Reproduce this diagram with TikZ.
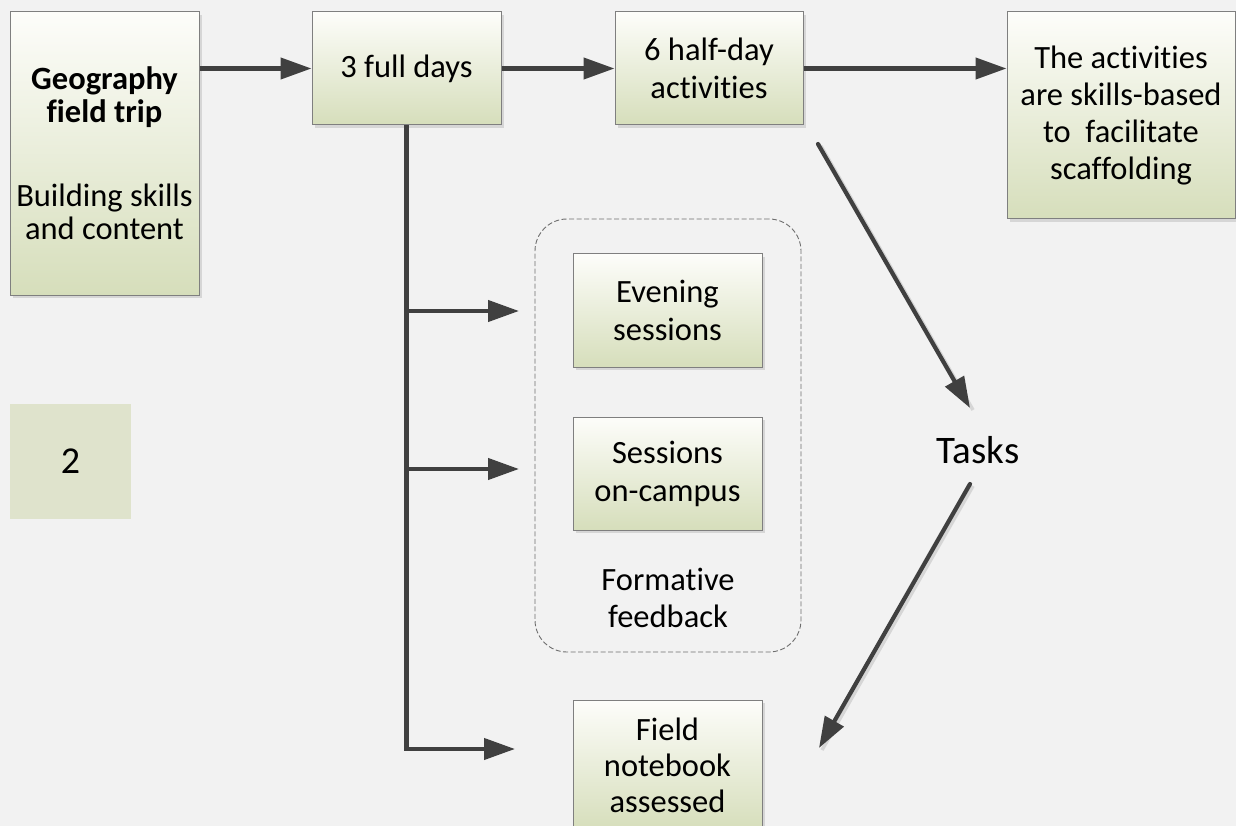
\documentclass[tikz,border=0pt]{standalone}
\usepackage{fontspec}
\setmainfont[Ligatures={NoCommon}]{Carlito}
\usetikzlibrary{arrows.meta,shadows}
\definecolor{bgc}{HTML}{F2F2F2}
\definecolor{topc}{HTML}{FDFDFA}
\definecolor{botc}{HTML}{D6DEBB}
\definecolor{edgec}{HTML}{7F7F7F}
\definecolor{arrc}{HTML}{404040}
\definecolor{shc}{HTML}{D6D6D6}
\definecolor{numc}{HTML}{DFE3CC}
\definecolor{dashc}{HTML}{6E6E6E}
\begin{document}
\begin{tikzpicture}[x=1pt,y=-1pt,
  box/.style={draw=edgec, line width=1pt, top color=topc, bottom color=botc,
    inner sep=0pt, align=center, font=\fontsize{32.5}{38}\selectfont,
    drop shadow={shadow xshift=3pt, shadow yshift=-3pt, fill=shc, opacity=1}},
  txt/.style={inner sep=0pt, align=center, font=\fontsize{32.5}{37}\selectfont},
  arr/.style={draw=arrc, line width=4.2pt, -{Triangle[length=31pt,width=21pt]}},
  container/.style={draw=dashc, line width=0.9pt, dash pattern=on 5pt off 2.5pt, rounded corners=32pt}
]
\fill[bgc] (0,0) rectangle (1236,826);
\useasboundingbox (0,0) rectangle (1236,826);

% container
\node[container, minimum width=266pt, minimum height=433pt] (grp) at (668,435.5) {};

% boxes
\node[box, minimum width=189pt, minimum height=283pt, font=\fontsize{32.5}{33}\selectfont] (A) at (104.5,153.5)
  {\textbf{Geography}\\\textbf{field trip}\\[51pt]Building skills\\and content};
\node[box, minimum width=189pt, minimum height=113pt] (B) at (406.5,68.5) {3 full days};
\node[box, minimum width=188pt, minimum height=113pt] (C) at (709,68.5) {6 half-day\\activities};
\node[box, minimum width=228pt, minimum height=207pt, font=\fontsize{32.5}{37}\selectfont] (D) at (1121,115.5)
  {The activities\\are skills-based\\to~~facilitate\\scaffolding};
\node[box, minimum width=189pt, minimum height=113pt] (E) at (667.5,310.5) {Evening\\sessions};
\node[box, minimum width=189pt, minimum height=113pt] (F) at (667.5,473.5) {Sessions\\on-campus};
\node[box, minimum width=189pt, minimum height=130pt, font=\fontsize{32.5}{36}\selectfont] (G) at (667.5,765) {Field\\notebook\\assessed};
\node[txt] (ff) at (668,598) {Formative\\feedback};

\node[fill=numc, minimum width=121pt, minimum height=115pt, inner sep=0pt, font=\fontsize{38}{42}\selectfont] (num) at (70.5,461.5) {2};
\node[inner sep=0pt, font=\fontsize{39}{44}\selectfont] (tasks) at (978,450) {Tasks};

% connectors
\draw[arr] (A.east |- B.west) -- (B.west);
\draw[arr] (B.east) -- (C.west);
\draw[arr] (C.east) -- (D.west |- C.east);

\coordinate (b1) at (519,311);
\coordinate (b2) at (519,469);
\coordinate (b3) at (515,749);
\draw[arr] (B.south) |- (b3);
\draw[arr] (b1 -| B.south) -- (b1);
\draw[arr] (b2 -| B.south) -- (b2);

\coordinate (t1s) at (818,144);
\coordinate (t1e) at (970,408);
\coordinate (t2s) at (970,484);
\coordinate (t2e) at (819,748);
\draw[draw=shc, line width=3.5pt] ([xshift=3pt,yshift=-2pt]t1s) -- ([xshift=3pt,yshift=-2pt]t1e);
\draw[draw=shc, line width=3.5pt] ([xshift=3pt,yshift=-2pt]t2s) -- ([xshift=3pt,yshift=-2pt]t2e);
\draw[arr, line cap=round] (t1s) -- (t1e);
\draw[arr, line cap=round] (t2s) -- (t2e);
\end{tikzpicture}
\end{document}
